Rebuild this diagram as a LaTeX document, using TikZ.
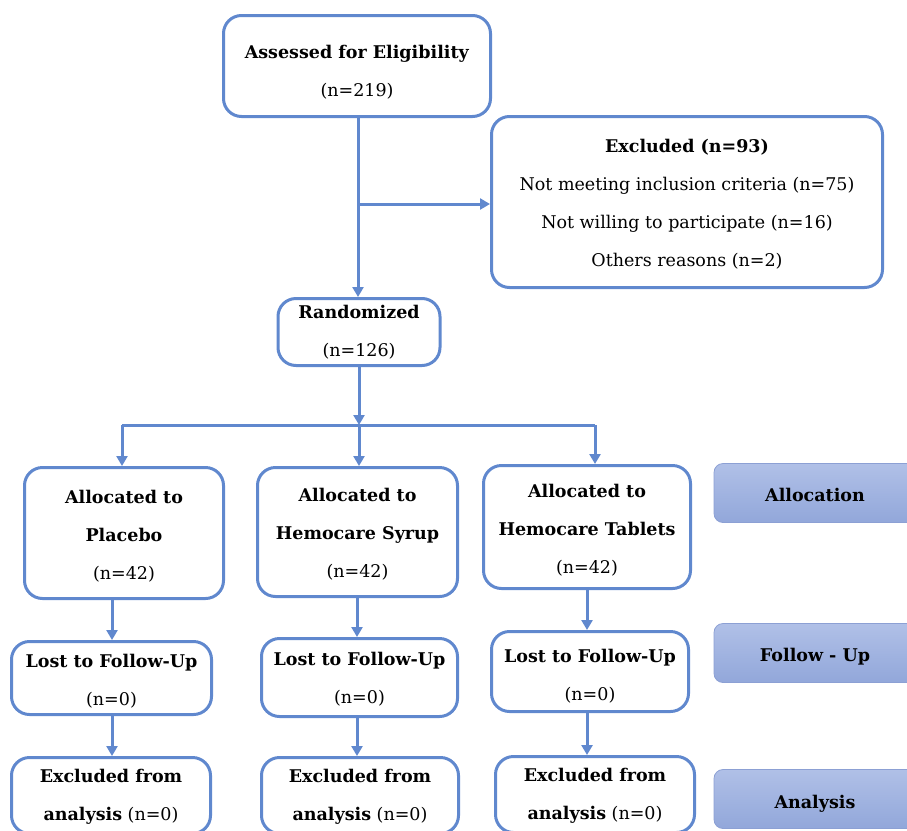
\documentclass[tikz,border=0pt]{standalone}
\usepackage{fontspec}
\setmainfont{DejaVu Serif}
\usepackage{tikz}
\usetikzlibrary{arrows.meta}
\definecolor{flowblue}{RGB}{96,136,206}
\definecolor{sidetop}{RGB}{176,192,231}
\definecolor{sidebot}{RGB}{146,167,218}
\definecolor{sideline}{RGB}{140,160,212}
\def\dropby#1{\rule{0pt}{#1}}

\begin{document}
\begin{tikzpicture}[x=1pt, y=-1pt,
		box/.style={draw=flowblue, line width=3pt, rounded corners=18pt, fill=white,
			inner sep=0pt, align=center, font=\fontsize{17.5pt}{38pt}\selectfont},
		sidebox/.style={draw=sideline, line width=0.8pt, rounded corners=9pt,
			top color=sidetop, bottom color=sidebot, inner sep=0pt,
			minimum width=202pt, minimum height=59pt, font=\fontsize{17.5pt}{20pt}\selectfont\bfseries},
		flow/.style={draw=flowblue, line width=3pt, -{Triangle[length=10pt,width=11pt]}},
		joint/.style={draw=flowblue, line width=3pt}]
		%%%%% START %%%%%
		
		\useasboundingbox (0, 0) rectangle (907, 830);
		
		% top part
		\node[box, minimum width=267pt, minimum height=101pt] (assess) at (357, 66)
			{\dropby{25pt}\textbf{Assessed for Eligibility}\\(n=219)};
		\node[box, minimum width=391pt, minimum height=171pt] (excl) at (687, 202)
			{\dropby{17pt}\textbf{Excluded (n=93)}\\Not meeting inclusion criteria (n=75)\\Not willing to participate (n=16)\\Others reasons (n=2)};
		\node[box, minimum width=162pt, minimum height=67pt] (rand) at (359, 332)
			{\textbf{Randomized}\\(n=126)};
		
		% allocation
		\node[box, minimum width=199pt, minimum height=131pt] (placebo) at (124, 533)
			{\dropby{20.5pt}\textbf{Allocated to}\\\textbf{Placebo}\\(n=42)};
		\node[box, minimum width=200pt, minimum height=129pt] (syrup) at (357.5, 532)
			{\dropby{17pt}\textbf{Allocated to}\\\textbf{Hemocare Syrup}\\(n=42)};
		\node[box, minimum width=207pt, minimum height=123pt] (tablets) at (587, 527)
			{\dropby{20.5pt}\textbf{Allocated to}\\\textbf{Hemocare Tablets}\\(n=42)};
		
		% follow-up
		\node[box, minimum width=200pt, minimum height=73pt] (lostP) at (111.5, 678)
			{\dropby{19.5pt}\textbf{Lost to Follow-Up}\\(n=0)};
		\node[box, minimum width=196pt, minimum height=78pt] (lostS) at (359.5, 677.5)
			{\dropby{16pt}\textbf{Lost to Follow-Up}\\(n=0)};
		\node[box, minimum width=197pt, minimum height=80pt] (lostT) at (590, 671.5)
			{\dropby{22pt}\textbf{Lost to Follow-Up}\\(n=0)};
		
		% analysis
		\node[box, minimum width=199pt, minimum height=76pt] (exP) at (111, 795.5)
			{\dropby{16pt}\textbf{Excluded from}\\\textbf{analysis} (n=0)};
		\node[box, minimum width=197pt, minimum height=76pt] (exS) at (360, 795.5)
			{\dropby{16pt}\textbf{Excluded from}\\\textbf{analysis} (n=0)};
		\node[box, minimum width=199pt, minimum height=76pt] (exT) at (595, 794.5)
			{\dropby{16pt}\textbf{Excluded from}\\\textbf{analysis} (n=0)};
		
		% stage labels
		\node[sidebox] (sideAlloc) at (815, 493) {\dropby{17pt}Allocation};
		\node[sidebox] (sideFollow) at (815, 653) {\dropby{21pt}Follow - Up};
		\node[sidebox] (sideAna) at (815, 799) {\dropby{23pt}Analysis};
		
		% connectors
		\coordinate (branch) at (358, 204);
		\coordinate (split) at (359, 425);
		\coordinate (leftEnd) at (122, 425);
		\coordinate (rightEnd) at (595, 425);
		
		\draw[flow] (assess.south -| branch) -- (rand.north -| branch);
		\draw[flow] (branch) -- (excl.west |- branch);
		\draw[flow] (rand.south -| split) -- (split);
		\draw[joint] (leftEnd) -- (rightEnd);
		\draw[flow] (leftEnd) -- (placebo.north -| leftEnd);
		\draw[flow] (split) -- (syrup.north -| split);
		\draw[flow] (rightEnd) -- (tablets.north -| rightEnd);
		
		\draw[flow] (placebo.south -| 112, 0) -- (lostP.north -| 112, 0);
		\draw[flow] (syrup.south -| 357, 0) -- (lostS.north -| 357, 0);
		\draw[flow] (tablets.south -| 587, 0) -- (lostT.north -| 587, 0);
		\draw[flow] (lostP.south -| 112, 0) -- (exP.north -| 112, 0);
		\draw[flow] (lostS.south -| 357, 0) -- (exS.north -| 357, 0);
		\draw[flow] (lostT.south -| 587, 0) -- (exT.north -| 587, 0);
		
		%%%%% END %%%%%
	\end{tikzpicture}
\end{document}
